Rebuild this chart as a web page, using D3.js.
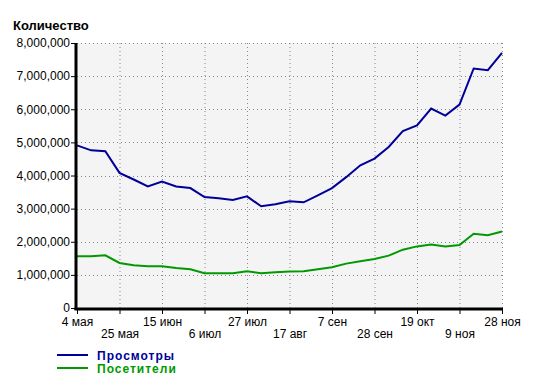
<!DOCTYPE html>
<html>
<head>
<meta charset="utf-8">
<script src="https://cdn.jsdelivr.net/npm/d3@7"></script>
<style>
  body { margin: 0; background: #fff; }
  svg text { font-family: Arial, "Liberation Sans", sans-serif; }
</style>
</head>
<body>
<div id="chart"></div>
<script>
// weekly points, a label every 3rd week
const weeks = d3.range(31);
const tickLabels = ["4 мая", "25 мая", "15 июн", "6 июл", "27 июл", "17 авг",
                    "7 сен", "28 сен", "19 окт", "9 ноя", "28 ноя"];
const yTicks = [0, 1000000, 2000000, 3000000, 4000000, 5000000, 6000000, 7000000, 8000000];

const views = [4.91, 4.76, 4.73, 4.08, 3.88, 3.67, 3.82, 3.67, 3.62, 3.35, 3.31,
               3.26, 3.37, 3.07, 3.13, 3.22, 3.19, 3.40, 3.62, 3.95, 4.31,
               4.51, 4.86, 5.34, 5.51, 6.02, 5.81, 6.14, 7.23, 7.18, 7.70];
const visitors = [1.56, 1.56, 1.59, 1.36, 1.29, 1.26, 1.26, 1.21, 1.17, 1.05, 1.05,
                  1.05, 1.11, 1.05, 1.08, 1.10, 1.11, 1.17, 1.23, 1.34, 1.41,
                  1.48, 1.58, 1.76, 1.86, 1.92, 1.86, 1.90, 2.24, 2.20, 2.31];

const seriesNames = ["Просмотры", "Посетители"];
const seriesColors = ["#000099", "#009900"];

const width = 538, height = 379;
const margin = {left: 77, right: 36, top: 43, bottom: 71};

const svg = d3.select("#chart").append("svg")
    .attr("width", width)
    .attr("height", height);

const x = d3.scaleLinear()
    .domain([0, weeks.length - 1])
    .range([margin.left, width - margin.right]);

const y = d3.scaleLinear()
    .domain([0, 8000000])
    .range([height - margin.bottom, margin.top]);

// plot background
svg.append("rect")
    .attr("x", x(0))
    .attr("y", y(8000000))
    .attr("width", x(30) - x(0))
    .attr("height", y(0) - y(8000000))
    .attr("fill", "#f4f4f4");

// grid lines
const tickIdx = weeks.filter(d => d % 3 == 0);
svg.append("g")
    .selectAll("line")
    .data(tickIdx.slice(1))
    .enter().append("line")
    .attr("x1", d => x(d) + 0.5).attr("x2", d => x(d) + 0.5)
    .attr("y1", y(8000000)).attr("y2", y(0))
    .attr("stroke", "#888")
    .attr("stroke-dasharray", "1,3");

svg.append("g")
    .selectAll("line")
    .data(yTicks.slice(1))
    .enter().append("line")
    .attr("x1", x(0)).attr("x2", x(30))
    .attr("y1", d => Math.round(y(d)) + 0.5).attr("y2", d => Math.round(y(d)) + 0.5)
    .attr("stroke", "#888")
    .attr("stroke-dasharray", "1,3");

// series lines
const line = d3.line()
    .x((d, i) => x(i))
    .y(d => y(d * 1000000));

[views, visitors].forEach((s, k) => {
    svg.append("path")
        .datum(s)
        .attr("fill", "none")
        .attr("stroke", seriesColors[k])
        .attr("stroke-width", 2)
        .attr("d", line);
});

// y axis
const yAxis = d3.axisLeft(y)
    .tickValues(yTicks)
    .tickSize(5)
    .tickFormat(d3.format(","));
const gy = svg.append("g")
    .attr("transform", `translate(${x(0) - 1},0)`)
    .call(yAxis);
gy.select(".domain").remove();
gy.selectAll(".tick line").attr("stroke", "#000");
gy.selectAll(".tick text")
    .attr("font-size", 12)
    .attr("fill", "#000")
    .attr("x", -6);

// x axis
const xAxis = d3.axisBottom(x)
    .tickValues(tickIdx)
    .tickSize(5)
    .tickFormat((d, i) => tickLabels[i]);
const gx = svg.append("g")
    .attr("transform", `translate(0,${y(0) + 1})`)
    .call(xAxis);
gx.select(".domain").remove();
gx.selectAll(".tick line").attr("stroke", "#000");
gx.selectAll(".tick text")
    .attr("font-size", 12)
    .attr("fill", "#000")
    .attr("y", (d, i) => i % 2 == 0 ? 8 : 20);

// thick axis lines
svg.append("line")
    .attr("x1", x(0) - 1).attr("x2", x(0) - 1)
    .attr("y1", y(8000000)).attr("y2", y(0) + 2)
    .attr("stroke", "#000").attr("stroke-width", 3);
svg.append("line")
    .attr("x1", x(0) - 2.5).attr("x2", x(30) + 1)
    .attr("y1", y(0) + 1).attr("y2", y(0) + 1)
    .attr("stroke", "#000").attr("stroke-width", 3);

// title
svg.append("text")
    .attr("x", 13)
    .attr("y", 30)
    .attr("font-size", 13)
    .attr("font-weight", "bold")
    .text("Количество");

// legend
const legend = svg.append("g")
    .selectAll("g")
    .data(seriesNames)
    .enter().append("g")
    .attr("transform", (d, i) => `translate(57,${355 + i * 13})`);
legend.append("line")
    .attr("x1", 0).attr("x2", 31)
    .attr("stroke", (d, i) => seriesColors[i])
    .attr("stroke-width", 2);
legend.append("text")
    .attr("x", 40)
    .attr("y", 4.5)
    .attr("font-size", 12)
    .attr("font-weight", "bold")
    .attr("letter-spacing", 1)
    .attr("fill", (d, i) => seriesColors[i])
    .text(d => d);
</script>
</body>
</html>
